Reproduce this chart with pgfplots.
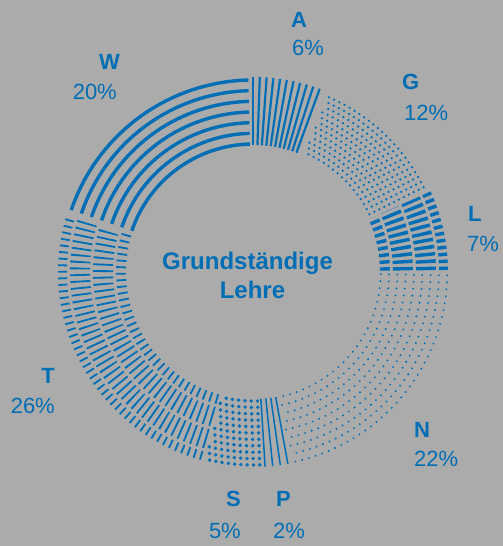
\documentclass[border=0pt]{standalone}
\usepackage{fontspec}
\setmainfont{Liberation Sans}
\usepackage{pgfplots}
\usepackage{pgfplotstable}
\pgfplotsset{compat=1.18}
\definecolor{cblue}{RGB}{0,110,180}
\definecolor{bggray}{RGB}{171,171,171}

\pgfplotstableread{
name pct
A 6
G 12
L 7
N 22
P 2
S 5
T 26
W 20
}\piedata

\def\rin{127}\def\rout{195}
\newcommand\radline[2]{%
  \draw[cblue, line width=#2] (axis cs:{\rin*cos(#1)},{\rin*sin(#1)}) -- (axis cs:{\rout*cos(#1)},{\rout*sin(#1)});}
\newcommand\ringarc[4]{%
  \draw[cblue,#1] (axis cs:{#2*cos(#3)},{#2*sin(#3)}) arc[start angle=#3, end angle=#4, radius=#2 pt];}

\newcommand\segA[2]{\foreach \k in {0,...,10}{\pgfmathsetmacro\myang{#1-2*\k}\radline{\myang}{2.2pt}}}
\newcommand\segG[2]{\foreach \k in {0,...,11}{\pgfmathsetmacro\myr{130+5.5*\k}\ringarc{line width=2.5pt,line cap=round,dash pattern=on 0pt off 5.8pt}{\myr}{#2+1.2}{#1-1.6}}}
\newcommand\segL[2]{\foreach \rc/\w in {132/10,150/20,173/20,190.5/9}{\ringarc{line width=\w pt,dash pattern=on 3.4pt off 3.5pt}{\rc}{#2+0.6}{#1-0.8}}}
\newcommand\segN[2]{\foreach \k in {0,...,8}{\pgfmathsetmacro\myr{127.8+8.3*\k}\ringarc{line width=2.1pt,line cap=round,dash pattern=on 0pt off 7pt}{\myr}{#1-1}{#2+0.8}}}
\newcommand\segP[2]{\foreach \k in {0,...,3}{\pgfmathsetmacro\myang{#1-0.5-2.25*\k}\radline{\myang}{1.5pt}}}
\newcommand\segS[2]{\foreach \k in {0,...,10}{\pgfmathsetmacro\myr{129+6.4*\k}\ringarc{line width=3.8pt,line cap=round,dash pattern=on 0pt off 6.3pt}{\myr}{#1-1.6}{#2+0.3}}}
\newcommand\segT[2]{\foreach \rc/\w in {132/10,150/20,173/20,190.5/9}{\ringarc{line width=\w pt,dash pattern=on 1.8pt off 4.7pt}{\rc}{#1-1.1}{#2+0.8}}}
\newcommand\segW[2]{\foreach \k in {0,...,6}{\pgfmathsetmacro\myr{192-10.67*\k}\ringarc{line width=3.4pt}{\myr}{#1-0.8}{#2+1.4}}}

\begin{document}
\begin{tikzpicture}
\begin{axis}[x=1pt,y=1pt,xmin=-253,xmax=250,ymin=-274,ymax=272,hide axis,clip=false]
\pgfplotsextra{%
  \fill[bggray] (axis cs:-253,-274) rectangle (axis cs:250,272);
  \gdef\cum{0}%
  \pgfplotstablegetrowsof{\piedata}%
  \pgfmathtruncatemacro\nlast{\pgfplotsretval-1}%
  \foreach \i in {0,...,\nlast}{%
    \pgfplotstablegetelem{\i}{name}\of{\piedata}\let\nm\pgfplotsretval
    \pgfplotstablegetelem{\i}{pct}\of{\piedata}\let\val\pgfplotsretval
    \pgfmathsetmacro\aS{90-3.6*\cum}%
    \pgfmathsetmacro\aE{90-3.6*(\cum+\val)}%
    \csname seg\nm\endcsname{\aS}{\aE}%
    \pgfmathsetmacro\tmp{\cum+\val}\xdef\cum{\tmp}%
  }%
}
\tikzset{cen/.style={anchor=base,text=cblue,inner sep=0pt,font=\bfseries\fontsize{24}{29}\selectfont},
  lw/.style={anchor=base west,text=cblue,inner sep=0pt,font=\fontsize{22}{26}\selectfont},
  le/.style={anchor=base east,text=cblue,inner sep=0pt,font=\fontsize{22}{26}\selectfont}}
\node[cen] at (axis cs:-5.5,2) {Grundständige};
\node[cen] at (axis cs:-0.5,-27) {Lehre};
\node[lw] at (axis cs:38,244) {\bfseries A};
\node[lw] at (axis cs:39,216) {6\%};
\node[lw] at (axis cs:149,182) {\bfseries G};
\node[lw] at (axis cs:151,151) {12\%};
\node[lw] at (axis cs:215,50) {\bfseries L};
\node[lw] at (axis cs:214,20) {7\%};
\node[lw] at (axis cs:161,-166) {\bfseries N};
\node[lw] at (axis cs:161,-195) {22\%};
\node[lw] at (axis cs:23,-235) {\bfseries P};
\node[lw] at (axis cs:20,-266) {2\%};
\node[le] at (axis cs:-12,-235) {\bfseries S};
\node[le] at (axis cs:-12,-266) {5\%};
\node[le] at (axis cs:-198,-112) {\bfseries T};
\node[le] at (axis cs:-198,-142) {26\%};
\node[le] at (axis cs:-133,202) {\bfseries W};
\node[le] at (axis cs:-136,172) {20\%};
\end{axis}
\end{tikzpicture}
\end{document}
